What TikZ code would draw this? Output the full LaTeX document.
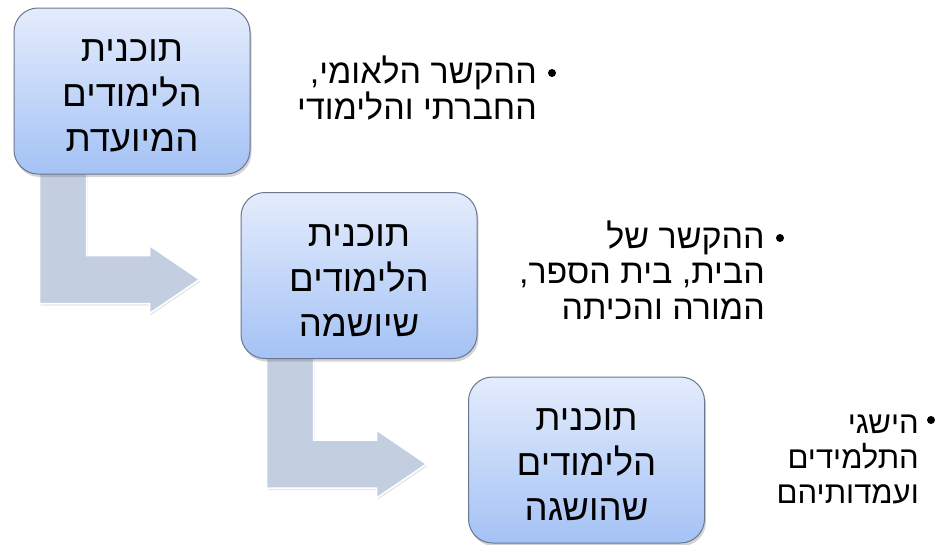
\documentclass[tikz,border=0pt]{standalone}
\usepackage{fontspec}
\setmainfont{Liberation Sans}
\newfontfamily\hebfont[Script=Hebrew]{Liberation Sans}
\TeXXeTstate=1
\usetikzlibrary{shadows,calc}
\pgfdeclarelayer{background}
\pgfsetlayers{background,main}
\definecolor{boxtop}{HTML}{E4ECFC}
\definecolor{boxbot}{HTML}{A4C2F5}
\definecolor{boxline}{HTML}{6B7690}
\definecolor{arrowfill}{HTML}{C4CEE1}
\newcommand{\hebline}[1]{\beginR #1\endR}
\newcommand{\topstrut}{\rule{0pt}{32pt}}
\tikzset{
  stagebox/.style={rounded corners=24pt, top color=boxtop, bottom color=boxbot,
    draw=boxline, line width=1pt, minimum width=236pt, minimum height=166pt,
    align=center, inner sep=0pt,
    font=\hebfont\fontsize{36.5}{45}\selectfont, text=black,
    drop shadow={opacity=0.35, shadow xshift=1.5pt, shadow yshift=-3pt}},
  bendarrow/.style={fill=arrowfill, draw=white, line width=1.5pt, line join=miter,
    drop shadow={opacity=0.2, shadow xshift=1pt, shadow yshift=-2pt}},
  note/.style={align=right, inner sep=0pt, anchor=base east,
    font=\hebfont\fontsize{34}{35.5}\selectfont, text=black},
  smallnote/.style={note, font=\hebfont\fontsize{31}{35}\selectfont},
  dot/.style={circle, fill=black, inner sep=0pt, minimum size=8pt}
}
\begin{document}
\begin{tikzpicture}[x=1pt,y=1pt]
\useasboundingbox (0,0) rectangle (951,-544);

\node[stagebox] (b1) at (132,-91) {\topstrut\hebline{תוכנית}\\\hebline{הלימודים}\\\hebline{המיועדת}};
\node[stagebox] (b2) at (359,-275.5) {\topstrut\hebline{תוכנית}\\\hebline{הלימודים}\\\hebline{שיושמה}};
\node[stagebox] (b3) at (586.5,-460) {\topstrut\hebline{תוכנית}\\\hebline{הלימודים}\\\hebline{שהושגה}};

\begin{pgfonlayer}{background}
\draw[bendarrow] ($(b1.south west)+(26,2)$) -- ++(47,0) -- ++(0,-83) -- ++(63,0)
  -- ++(0,10) -- ++(50,-34) -- ++(-50,-34) -- ++(0,10) -- ++(-110,0) -- cycle;
\draw[bendarrow] ($(b2.south west)+(26,2)$) -- ++(47,0) -- ++(0,-83) -- ++(63,0)
  -- ++(0,10) -- ++(50,-34) -- ++(-50,-34) -- ++(0,10) -- ++(-110,0) -- cycle;
\end{pgfonlayer}

\node[dot] (d1) at (552,-73) {};
\node[note] (t1) at (537,-119) {\hebline{ההקשר הלאומי,}\\\hebline{החברתי והלימודי}};
\node[dot] (d2) at (780,-238) {};
\node[note] (t2) at (765,-319) {\hebline{ההקשר של}\\\hebline{הבית, בית הספר,}\\\hebline{המורה והכיתה}};
\node[dot] (d3) at (931,-420) {};
\node[smallnote] (t3) at (919,-503) {\hebline{הישגי}\\\hebline{התלמידים}\\\hebline{ועמדותיהם}};
\end{tikzpicture}
\end{document}
